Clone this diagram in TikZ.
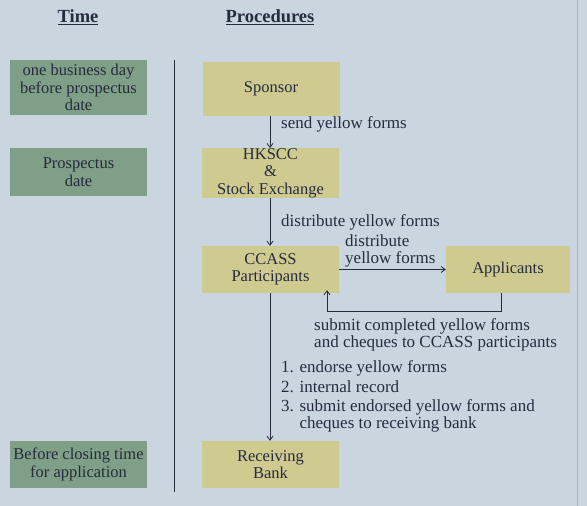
\documentclass[tikz,border=0pt]{standalone}
\usepackage{fontspec}
\setmainfont{Liberation Serif}
\usetikzlibrary{arrows.meta}
\definecolor{bg}{HTML}{C9D6E0}
\definecolor{gbox}{HTML}{7F9F86}
\definecolor{ybox}{HTML}{CFCA90}
\definecolor{ink}{HTML}{262B3E}
\tikzset{
  timebox/.style={fill=gbox, draw=none, minimum width=137pt, align=center, inner sep=0pt, font=\fontsize{16.5}{17.5}\selectfont, text=ink},
  procbox/.style={fill=ybox, draw=none, minimum width=137pt, align=center, inner sep=0pt, font=\fontsize{16.5}{17.5}\selectfont, text=ink},
  lbl/.style={align=left, inner sep=0pt, font=\fontsize{17}{17}\selectfont, text=ink},
  head/.style={inner sep=0pt, font=\bfseries\fontsize{18.5}{19}\selectfont, text=ink},
  conn/.style={draw=ink, line width=0.8pt, -{Straight Barb[length=4pt,width=6pt]}},
  plain/.style={draw=ink, line width=0.8pt}
}
\begin{document}
\begin{tikzpicture}[x=1pt,y=-1pt]
\fill[bg] (0,0) rectangle (587,506);
\useasboundingbox (0,0) rectangle (587,506);
\draw[gray!60, line width=0.8pt] (577,0) -- (577,506);

\node[head] (th) at (78,17) {\underline{Time}};
\node[head] (ph) at (270,17) {\underline{Procedures}};

\node[timebox, minimum height=55pt] (t1) at (78.5,87.5) {one business day\\before prospectus\\date};
\node[timebox, minimum height=48pt] (t2) at (78.5,172) {Prospectus\\date};
\node[timebox, minimum height=47pt] (t3) at (78.5,464.5) {Before closing time\\for application};

\coordinate (dtop) at (174,60);
\coordinate (dbot) at (174,492);
\draw[plain] (dtop) -- (dbot);

\node[procbox, minimum height=54pt] (sp) at (271,89) {Sponsor};
\node[procbox, minimum height=49pt] (hk) at (270.5,173) {HKSCC\\\&\\Stock Exchange};
\node[procbox, minimum height=47pt] (cc) at (270.5,269.5) {CCASS\\Participants};
\node[procbox, minimum height=47pt, minimum width=124pt] (ap) at (508,269.5) {Applicants};
\node[procbox, minimum height=47pt] (rb) at (270.5,464.5) {Receiving\\Bank};

\draw[conn] (sp.south -| 270,0) -- (hk.north -| 270,0);
\node[lbl, anchor=west] (l1) at (281,124) {send yellow forms};

\draw[conn] (hk.south -| 270,0) -- (cc.north -| 270,0);
\node[lbl, anchor=west] (l2) at (281,222) {distribute yellow forms};

\draw[conn] (cc.east) -- (ap.west);
\node[lbl, anchor=west] (l3) at (345,250.5) {distribute\\yellow forms};

\coordinate (r1) at (501,311);
\coordinate (r2) at (327,311);
\draw[conn] (ap.south -| r1) -- (r1) -- (r2) -- ([yshift=3pt]cc.south -| r2);
\node[lbl, anchor=west] (l4) at (314,334.5) {submit completed yellow forms\\and cheques to CCASS participants};

\draw[conn] (cc.south -| 270,0) -- (rb.north -| 270,0);
\node[lbl, anchor=west] (l5) at (281,368) {1. endorse yellow forms};
\node[lbl, anchor=west] (l6) at (281,387) {2. internal record};
\node[lbl, anchor=west] (l7) at (281,416) {3. submit endorsed yellow forms and\\\phantom{3. }cheques to receiving bank};
\end{tikzpicture}
\end{document}
